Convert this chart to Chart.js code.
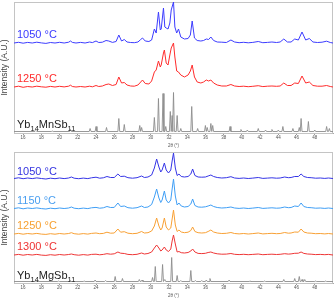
<!DOCTYPE html>
<html>
<head>
<meta charset="utf-8">
<script src="https://cdn.jsdelivr.net/npm/chart.js@4/dist/chart.umd.min.js"></script>
<style>
  html, body { margin: 0; padding: 0; background: #fff; }
  .panel { position: relative; width: 335px; }
  #topWrap { height: 148px; }
  #botWrap { height: 150px; }
</style>
</head>
<body>
<div class="panel" id="topWrap"><canvas id="topChart"></canvas></div>
<div class="panel" id="botWrap"><canvas id="botChart"></canvas></div>
<script>
// 2theta tick labels
const xTicks = [16, 18, 20, 22, 24, 26, 28, 30, 32, 34, 36, 38, 40, 42, 44, 46, 48];

// ---- top panel: Yb14MnSb11 ----
const mn1050 = [[15,90],[15.5,90.7],[16,89.8],[16.5,90.6],[17,90],[17.5,90.8],[18,90.1],[18.5,89.6],[19,90.5],[19.5,90],
  [20,90.7],[20.5,90],[21,90.8],[21.2,92],[21.4,90.6],[21.8,90],[22.3,90.6],[22.8,90],[23.3,91],[23.6,90.4],
  [24,92],[24.3,90.5],[24.7,90.8],[25.1,92.5],[25.4,92],[25.8,90.6],[26.2,91.5],[26.5,98],[26.8,92],[27.1,93.5],
  [27.4,91],[27.8,90.5],[28.2,90.3],[28.6,91],[28.9,93.5],[29.1,95],[29.4,92],[29.8,91.5],[30.1,93],[30.4,104],
  [30.6,100],[30.85,121],[31.05,103],[31.15,104],[31.4,125],[31.55,106],[31.7,105],[31.9,104],[32.1,110],[32.25,123],
  [32.5,131],[32.65,106],[32.85,100],[33.05,104],[33.3,96],[33.7,94],[34.1,94.5],[34.35,98],[34.55,112],[34.8,95],
  [35.1,92.5],[35.5,92],[35.8,92.5],[36.1,94],[36.35,93.5],[36.6,96],[36.9,92.5],[37.3,91],[37.8,90.8],[38.3,90.5],
  [38.8,93],[39.2,91],[39.7,90.3],[40.2,90.7],[40.7,90.2],[41.2,90.6],[41.8,91.5],[42.3,90.3],[42.8,90.6],[43.3,91],
  [43.8,90.5],[44.2,91],[44.6,94],[45,91],[45.4,91],[45.8,94],[46.2,93],[46.6,101],[47,93],[47.4,94.5],
  [47.8,91],[48.3,90.5],[48.8,90.8],[49.3,91.8],[49.7,90.5],[50,90]];

const mn1250 = [[15,46],[15.5,46.8],[16,45.7],[16.5,46.5],[17,46],[17.5,46.8],[18,46.2],[18.5,45.8],[19,46.6],[19.5,46],
  [20,46.7],[20.5,46.1],[21,46.8],[21.2,47.8],[21.4,46.5],[21.8,46],[22.3,46.5],[22.8,46],[23.3,46.8],[23.6,46.2],
  [24,47.5],[24.3,46.5],[24.7,47],[25.1,48.5],[25.4,49],[25.8,47.5],[26.2,48.5],[26.5,56],[26.8,50],[27.1,50.5],
  [27.4,48],[27.8,47],[28.2,46.8],[28.6,48],[28.9,51],[29.1,53],[29.4,49.5],[29.8,49],[30.1,52],[30.4,61],
  [30.6,63],[30.85,72],[31.05,66],[31.15,68],[31.4,80],[31.5,83],[31.7,70],[31.9,68],[32.1,78],[32.25,85],
  [32.5,90],[32.65,76],[32.85,62],[33.05,61],[33.3,58],[33.7,56],[34.1,58],[34.35,62],[34.55,68],[34.8,56],
  [35.1,51],[35.5,50],[35.8,51],[36.1,53],[36.35,52],[36.6,53],[36.9,50],[37.3,48],[37.8,47],[38.3,47],
  [38.8,48.5],[39.2,47],[39.7,46.5],[40.2,46.8],[40.7,46.3],[41.2,46.7],[41.8,47.3],[42.3,46.4],[42.8,46.8],[43.3,47],
  [43.8,46.7],[44.2,47],[44.6,50],[45,47.5],[45.4,47.5],[45.8,50],[46.2,49.5],[46.6,57],[47,50],[47.4,51],
  [47.8,47.5],[48.3,46.8],[48.8,46.8],[49.3,47.5],[49.7,46.5],[50,46]];

// reference reflections [2theta, relative height]
const mnRef = [[17.4,1],[19.2,0.5],[21.2,2],[23.35,3],[24,5],[25.15,4],[26.5,13],[27.1,7],[28.8,6],[29,4],
  [30.4,14],[30.85,33],[31.35,38],[31.65,5],[32.15,20],[32.35,16],[32.5,39],[32.9,16],[33.3,3],[34.5,25],
  [35.15,3],[36,6],[36.2,4],[36.6,8],[36.8,6],[38.7,5],[39.9,2],[40.6,1.5],[41.8,3],[42.6,1.5],
  [43.3,2],[44,1.5],[44.5,5],[45.6,3],[46.3,4],[46.5,13],[47.3,10],[48,1.5],[49.3,5],[49.6,3]];

// ---- bottom panel: Yb14MgSb11 ----
const mg1050 = [[15,104.5],[15.5,105.2],[16,104.3],[16.5,105],[17,104.4],[17.5,105.1],[18,104.5],[18.5,104],[19,104.8],[19.5,104.3],
  [20,105],[20.5,104.4],[21,105],[21.3,106],[21.6,104.8],[22.1,104.3],[22.6,104.9],[23.1,104.4],[23.5,105.2],[24,105.8],
  [24.4,104.8],[24.8,105.2],[25.2,106.5],[25.6,105.5],[26,105.5],[26.4,109],[26.7,106.5],[27.1,106.8],[27.5,105.3],[28,104.8],
  [28.5,105.3],[29,107],[29.3,105.5],[29.7,106],[30.1,108],[30.4,115],[30.65,124],[30.9,116],[31.1,111],[31.25,113],
  [31.5,120],[31.7,113],[31.95,110],[32.2,113],[32.35,122],[32.5,130],[32.7,115],[32.9,107.5],[33.1,109],[33.35,106.5],
  [33.7,106],[34.1,106.5],[34.4,109],[34.6,114],[34.85,107.5],[35.2,106],[35.6,105.8],[36,106],[36.3,107],[36.6,108],
  [36.9,106.5],[37.3,105.5],[37.8,105],[38.3,105.3],[38.8,106.3],[39.2,105],[39.7,104.6],[40.2,105],[40.7,104.5],[41.2,104.9],
  [41.8,105.5],[42.3,104.6],[42.8,104.9],[43.3,105.2],[43.8,104.8],[44.2,105],[44.7,106],[45.1,105.3],[45.4,105.5],[45.8,106.5],
  [46.2,106.5],[46.5,109],[46.8,106.5],[47.2,105.5],[47.6,105.3],[48.1,104.8],[48.6,105],[49.1,104.6],[49.5,105],[50,104.5]];

const mg1150 = [[15,74.5],[15.5,75.2],[16,74.2],[16.5,75],[17,74.5],[17.5,75.1],[18,74.4],[18.5,74],[19,74.8],[19.5,74.3],
  [20,75],[20.5,74.5],[21,75],[21.3,76],[21.6,74.8],[22.1,74.3],[22.6,74.9],[23.1,74.4],[23.5,75.2],[24,75.6],
  [24.4,74.8],[24.8,75.2],[25.2,76.5],[25.6,75.5],[26,75.6],[26.4,80],[26.7,76.5],[27.1,77],[27.5,75.3],[28,74.8],
  [28.5,75.3],[29,77],[29.3,75.5],[29.7,76],[30.1,78.5],[30.4,86],[30.65,94],[30.9,85],[31.1,80.5],[31.25,83],
  [31.5,92],[31.7,83],[31.95,80],[32.2,83],[32.35,94],[32.5,104],[32.7,87],[32.9,78],[33.1,80],[33.35,77],
  [33.7,76],[34.1,76.5],[34.4,79],[34.6,84],[34.85,77.5],[35.2,76],[35.6,75.8],[36,76.2],[36.3,77],[36.6,78],
  [36.9,76.5],[37.3,75.5],[37.8,75],[38.3,75.3],[38.8,76],[39.2,75],[39.7,74.6],[40.2,75],[40.7,74.5],[41.2,74.9],
  [41.8,75.5],[42.3,74.6],[42.8,74.9],[43.3,75.2],[43.8,74.8],[44.2,75],[44.7,76],[45.1,75.3],[45.4,75.5],[45.8,77],
  [46.2,76.5],[46.5,80],[46.8,76.5],[47.2,75.5],[47.6,75.3],[48.1,74.8],[48.6,75],[49.1,74.6],[49.5,75],[50,74.5]];

const mg1250 = [[15,49],[15.5,49.6],[16,48.8],[16.5,49.5],[17,49],[17.5,49.6],[18,48.9],[18.5,48.6],[19,49.3],[19.5,48.8],
  [20,49.5],[20.5,49],[21,49.5],[21.3,50.3],[21.6,49.3],[22.1,48.8],[22.6,49.4],[23.1,48.9],[23.5,49.6],[24,50],
  [24.4,49.3],[24.8,49.6],[25.2,50.8],[25.6,49.8],[26,50],[26.4,54],[26.7,50.8],[27.1,51.3],[27.5,49.8],[28,49.3],
  [28.5,49.7],[29,51.5],[29.3,50],[29.7,50.3],[30.1,52],[30.4,57],[30.65,65],[30.9,57],[31.1,53],[31.25,55],
  [31.5,65],[31.7,56],[31.95,53],[32.2,55],[32.35,64],[32.5,73],[32.7,58],[32.9,51.5],[33.1,53],[33.35,51],
  [33.7,50.3],[34.1,50.8],[34.4,52.5],[34.6,56],[34.85,51.5],[35.2,50.3],[35.6,50],[36,50.3],[36.3,51.5],[36.6,53],
  [36.9,51],[37.3,50],[37.8,49.5],[38.3,49.7],[38.8,50.5],[39.2,49.5],[39.7,49.1],[40.2,49.5],[40.7,49],[41.2,49.4],
  [41.8,50],[42.3,49.1],[42.8,49.4],[43.3,49.7],[43.8,49.3],[44.2,49.5],[44.7,50.5],[45.1,49.8],[45.4,50],[45.8,51],
  [46.2,50.8],[46.5,54],[46.8,51],[47.2,50],[47.6,49.8],[48.1,49.3],[48.6,49.5],[49.1,49.1],[49.5,49.5],[50,49]];

const mg1300 = [[15,28],[15.5,28.6],[16,27.8],[16.5,28.5],[17,28],[17.5,28.6],[18,27.9],[18.5,27.6],[19,28.3],[19.5,27.8],
  [20,28.5],[20.5,28],[21,28.5],[21.3,29],[21.6,28.3],[22.1,27.8],[22.6,28.4],[23.1,27.9],[23.5,28.6],[24,28.8],
  [24.4,28.2],[24.8,28.6],[25.2,29.3],[25.6,28.8],[26,29.2],[26.4,31],[26.7,29.8],[27.1,29.5],[27.5,28.6],[28,28.3],
  [28.5,28.7],[29,30],[29.3,29],[29.7,29.5],[30.1,31],[30.4,35],[30.65,38],[30.9,35],[31.1,32],[31.25,33],
  [31.5,36],[31.7,33],[31.95,31.5],[32.2,34],[32.35,42],[32.5,48],[32.7,39],[32.9,31],[33.1,31.5],[33.35,30.3],
  [33.7,30],[34.1,30.5],[34.4,32],[34.6,34],[34.85,31],[35.2,29.6],[35.6,29.4],[36,29.7],[36.3,30.5],[36.6,31],
  [36.9,30],[37.3,29.2],[37.8,28.8],[38.3,28.9],[38.8,29.5],[39.2,28.7],[39.7,28.4],[40.2,28.7],[40.7,28.3],[41.2,28.6],
  [41.8,29],[42.3,28.3],[42.8,28.6],[43.3,28.8],[43.8,28.5],[44.2,28.7],[44.7,29.3],[45.1,28.9],[45.4,29.1],[45.8,29.7],
  [46.2,29.8],[46.5,31],[46.8,29.6],[47.2,29],[47.6,28.8],[48.1,28.4],[48.6,28.6],[49.1,28.3],[49.5,28.6],[50,28]];

const mgRef = [[17.4,0.5],[19.9,0.5],[21.2,1],[22.7,0.5],[23.9,1.5],[25.05,1],[26.1,5],[26.9,3],[28.75,2],[29.05,1.5],
  [30.2,4],[30.5,15],[31.3,17],[31.55,2],[32.3,24],[32.9,6],[33.3,1],[34.4,11],[34.9,1],[35.6,1],
  [36.1,1.5],[36.5,3],[38.6,1.5],[40.9,0.5],[42.5,0.5],[44.6,2],[45.8,3],[46.3,5],[46.6,2],[46.9,2],[48.1,0.5],[49.2,0.5]];

function toPoints(arr) {
    return arr.map(p => ({ x: p[0], y: p[1] }));
}

// turn reflection list into a stick line sitting on a small baseline
function stickPoints(ref) {
    const base = 1.5;
    const pts = [{ x: 15, y: base }];
    ref.forEach(r => {
        pts.push({ x: r[0] - 0.1, y: base });
        pts.push({ x: r[0], y: base + r[1] });
        pts.push({ x: r[0] + 0.1, y: base });
    });
    pts.push({ x: 50, y: base });
    return pts;
}

function line(data, color, width) {
    return {
        data: data,
        borderColor: color,
        borderWidth: width || 1,
        pointRadius: 0,
        tension: 0,
        fill: false,
    };
}

// draws the sample labels inside the plot, subscripts on odd parts
const labelPlugin = {
    id: 'panelLabels',
    afterDatasetsDraw(chart, args, opts) {
        const ctx = chart.ctx;
        const yScale = chart.scales.y;
        ctx.save();
        ctx.textBaseline = 'middle';
        opts.items.forEach(item => {
            let x = chart.chartArea.left + 3;
            const y = yScale.getPixelForValue(item.y);
            ctx.fillStyle = item.color;
            item.parts.forEach((p, i) => {
                const sub = i % 2 === 1;
                ctx.font = sub ? '7.5px "Liberation Sans", Arial' : '11px "Liberation Sans", Arial';
                ctx.fillText(p, x, sub ? y + 3.5 : y);
                x += ctx.measureText(p).width;
            });
        });
        ctx.restore();
    }
};

const framePlugin = {
    id: 'frame',
    beforeDatasetsDraw(chart) {
        const a = chart.chartArea;
        const ctx = chart.ctx;
        ctx.save();
        ctx.strokeStyle = '#c4c4c4';
        ctx.lineWidth = 1;
        ctx.strokeRect(Math.round(a.left) + 0.5, Math.round(a.top) + 0.5, Math.round(a.right - a.left) - 1, Math.round(a.bottom - a.top));
        ctx.restore();
    }
};

function makePanel(id, datasets, labels, padTop) {
    new Chart(document.getElementById(id), {
        type: 'line',
        data: { datasets: datasets },
        plugins: [framePlugin, labelPlugin],
        options: {
            responsive: true,
            maintainAspectRatio: false,
            animation: false,
            layout: { padding: { top: padTop, right: 2, left: 0, bottom: 0 } },
            scales: {
                x: {
                    type: 'linear',
                    min: 15,
                    max: 50,
                    afterBuildTicks: scale => { scale.ticks = xTicks.map(v => ({ value: v })); },
                    afterFit: scale => { scale.height = 15; },
                    grid: { display: true, drawOnChartArea: false, tickLength: 2, color: '#999' },
                    border: { display: true, color: '#aaa' },
                    ticks: { font: { size: 4.5, family: 'Arial' }, color: '#555', padding: 0.5, maxRotation: 0, autoSkip: false },
                    title: { display: true, text: '2θ (°)', font: { size: 4.5, family: 'Arial' }, color: '#555', padding: { top: 0.5, bottom: 0 } },
                },
                y: {
                    min: 0,
                    max: 131,
                    afterFit: scale => { scale.width = 14; },
                    grid: { display: false },
                    border: { display: false },
                    ticks: { display: false },
                    title: { display: true, text: 'Intensity (A.U.)', font: { size: 8.5, family: '"Liberation Sans", Arial' }, color: '#444', padding: { top: 0, bottom: 1 } },
                },
            },
            plugins: {
                legend: { display: false },
                tooltip: { enabled: false },
                panelLabels: { items: labels },
            },
        },
    });
}

makePanel('topChart', [
    line(toPoints(mn1050), '#3c3cff'),
    line(toPoints(mn1250), '#ff2b2b'),
    line(stickPoints(mnRef), '#8c8c8c', 0.9),
], [
    { parts: ['1050 °C'], y: 98, color: '#3a3aff' },
    { parts: ['1250 °C'], y: 54, color: '#ff2a2a' },
    { parts: ['Yb', '14', 'MnSb', '11'], y: 8, color: '#222' },
], 2);

makePanel('botChart', [
    line(toPoints(mg1050), '#3434e6'),
    line(toPoints(mg1150), '#3f9ef5'),
    line(toPoints(mg1250), '#f8a034'),
    line(toPoints(mg1300), '#ee3535'),
    line(stickPoints(mgRef), '#8c8c8c', 0.9),
], [
    { parts: ['1050 °C'], y: 111, color: '#3434e0' },
    { parts: ['1150 °C'], y: 82, color: '#4a9ff0' },
    { parts: ['1250 °C'], y: 57, color: '#f7a030' },
    { parts: ['1300 °C'], y: 36, color: '#ee3333' },
    { parts: ['Yb', '14', 'MgSb', '11'], y: 7, color: '#222' },
], 4);
</script>
</body>
</html>
